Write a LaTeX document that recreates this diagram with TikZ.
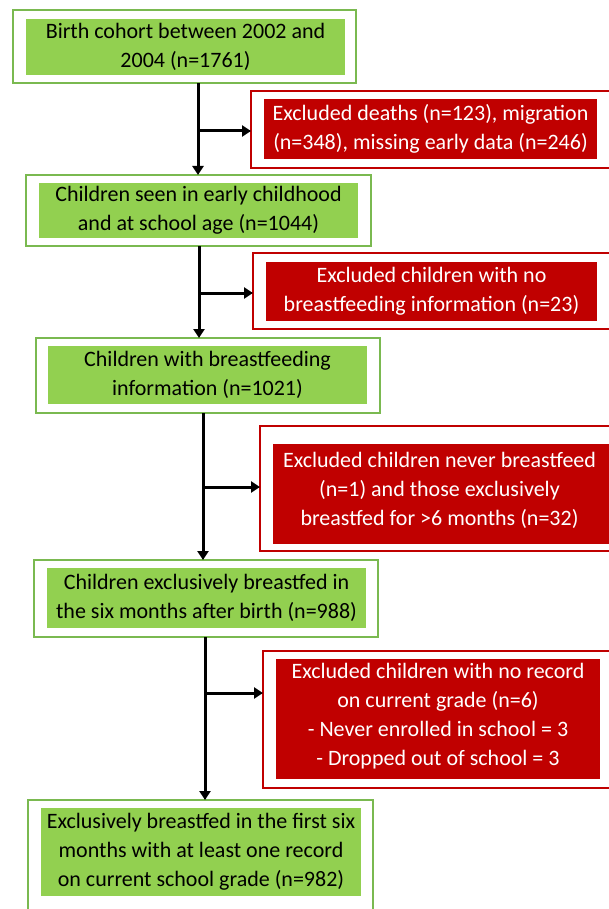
\documentclass[tikz,border=0pt]{standalone}
\usepackage{fontspec}
\setmainfont{Carlito}
\usepackage{tikz}
\usetikzlibrary{arrows.meta}
\definecolor{fillgreen}{RGB}{146,208,80}
\definecolor{linegreen}{RGB}{122,185,80}
\definecolor{fillred}{RGB}{192,0,0}
\tikzset{
  txt/.style={font=\fontsize{22}{29}\selectfont, align=center, inner sep=0pt, outer sep=0pt},
  gfill/.style={txt, fill=fillgreen, text=black},
  rfill/.style={txt, fill=fillred, text=white},
  gframe/.style={draw=linegreen, line width=2.5pt, inner sep=0pt, outer sep=0pt},
  rframe/.style={draw=fillred, line width=2.5pt, inner sep=0pt, outer sep=0pt},
  flow/.style={line width=3pt, -{Triangle[width=11pt,length=9pt]}},
}

\begin{document}
\begin{tikzpicture}[x=1pt, y=-1pt]
\useasboundingbox (0,0) rectangle (608,909);
% main boxes
\node[gframe, minimum width=343pt, minimum height=73pt](b1) at (184.5,46.5) {};
\node[gfill, minimum width=319pt, minimum height=56pt](f1) at (185.5,47) {Birth cohort between 2002 and\\2004 (n=1761)};
\node[gframe, minimum width=345pt, minimum height=71pt](b2) at (198.5,210.5) {};
\node[gfill, minimum width=319pt, minimum height=55pt](f2) at (198.5,210.5) {Children seen in early childhood\\and at school age (n=1044)};
\node[gframe, minimum width=344pt, minimum height=75pt](b3) at (208,375.5) {};
\node[gfill, minimum width=319pt, minimum height=58pt](f3) at (207.5,375) {Children with breastfeeding\\information (n=1021)};
\node[gframe, minimum width=344pt, minimum height=77pt](b4) at (206,598.5) {};
\node[gfill, minimum width=319pt, minimum height=60pt](f4) at (206.5,598) {Children exclusively breastfed in\\the six months after birth (n=988)};
\node[gframe, minimum width=345pt, minimum height=115pt](b5) at (200.5,857.5) {};
\node[gfill, minimum width=320pt, minimum height=88pt](f5) at (201,852) {Exclusively breastfed in the first six\\months with at least one record\\on current school grade (n=982)};
%
% exclusion boxes
\node[rframe, minimum width=361pt, minimum height=77pt](r1) at (431.5,129.5) {};
\node[rfill, minimum width=333pt, minimum height=60pt](e1) at (430.5,129) {Excluded deaths (n=123), migration\\(n=348), missing early data (n=246)};
\node[rframe, minimum width=359pt, minimum height=76pt](r2) at (432.5,291) {};
\node[rfill, minimum width=331pt, minimum height=59pt](e2) at (431.5,291.5) {Excluded children with no\\breastfeeding information (n=23)};
\node[rframe, minimum width=352pt, minimum height=125pt](r3) at (436,488.5) {};
\node[rfill, minimum width=337pt, minimum height=100pt](e3) at (441.5,494) {};
\node[txt, text=white](t3) at (439.5,490) {Excluded children never breastfeed\\(n=1) and those exclusively\\breastfed for >6 months (n=32)};
\node[rframe, minimum width=349pt, minimum height=137pt](r4) at (437.5,719.5) {};
\node[rfill, minimum width=324pt, minimum height=120pt](e4) at (438,719) {};
\node[txt, text=white](t4) at (438,716.5) {Excluded children with no record\\on current grade (n=6)\\- Never enrolled in school = 3\\- Dropped out of school = 3};
%
% arrows
\coordinate(s1) at (198,83);
\coordinate(j1) at (198,131);
\coordinate(s2) at (199,246);
\coordinate(j2) at (199,293);
\coordinate(s3) at (203,413);
\coordinate(j3) at (203,487);
\coordinate(s4) at (205,637);
\coordinate(j4) at (205,693);
\draw[flow](s1) -- (s1 |- b2.north);
\draw[flow](j1) -- (j1 -| r1.west);
\draw[flow](s2) -- (s2 |- b3.north);
\draw[flow](j2) -- (j2 -| r2.west);
\draw[flow](s3) -- (s3 |- b4.north);
\draw[flow](j3) -- (j3 -| r3.west);
\draw[flow](s4) -- (s4 |- b5.north);
\draw[flow](j4) -- (j4 -| r4.west);
\end{tikzpicture}
\end{document}
